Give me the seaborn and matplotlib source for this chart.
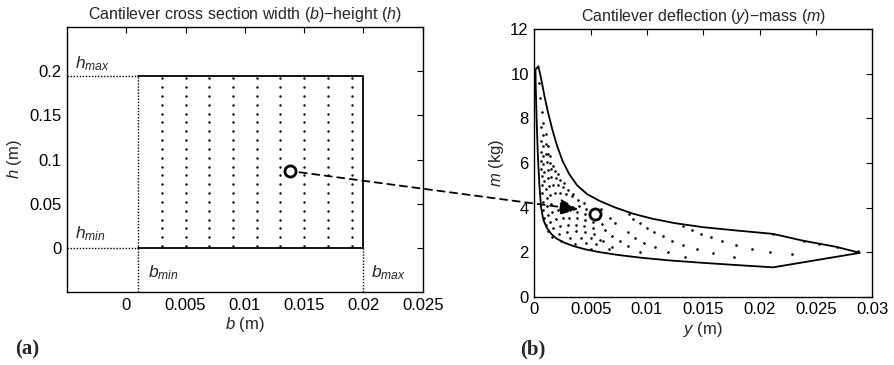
import numpy as np
import pandas as pd
import matplotlib
matplotlib.use("Agg")
import matplotlib.pyplot as plt
import seaborn as sns
from matplotlib.patches import ConnectionPatch
from matplotlib.ticker import FuncFormatter

# --- left panel: design space (b, h) ---
b_min, b_max = 0.001, 0.02
h_min, h_max = 0.0, 0.194
b_cols = [0.003, 0.005, 0.007, 0.009, 0.011, 0.013, 0.015, 0.017, 0.019]
h_rows = [0.002, 0.012, 0.022, 0.032, 0.042, 0.052, 0.062, 0.072, 0.082, 0.092,
          0.102, 0.112, 0.122, 0.132, 0.142, 0.152, 0.162, 0.172, 0.182, 0.192]
pick_b, pick_h = 0.0138, 0.087

# --- right panel: objective space (y, m), boundary ---
upper_y = [0.00036, 0.0006, 0.0009, 0.0012, 0.0016, 0.0020, 0.0025, 0.0031, 0.0038,
           0.0047, 0.0058, 0.0072, 0.0088, 0.0105, 0.0125, 0.0150, 0.0180, 0.0212,
           0.0239, 0.0268, 0.0289]
upper_m = [10.33, 9.8, 9.0, 8.3, 7.5, 6.8, 6.1, 5.5, 5.0,
           4.6, 4.3, 4.0, 3.72, 3.5, 3.3, 3.12, 2.97, 2.82,
           2.51, 2.24, 1.97]
lower_y = [0.0212, 0.0180, 0.0150, 0.0120, 0.0095, 0.0075, 0.0058, 0.0045, 0.0035,
           0.0027, 0.0020, 0.0015, 0.0011, 0.0008, 0.0006, 0.00045, 0.0003, 0.0002,
           0.00012, 0.0001, 0.00036]
lower_m = [1.32, 1.42, 1.52, 1.63, 1.75, 1.87, 2.0, 2.13, 2.27,
           2.42, 2.6, 2.82, 3.1, 3.45, 4.0, 5.0, 6.5, 8.0,
           9.5, 10.2, 10.33]

dots_y = [0.0004, 0.0005, 0.0007,
          0.0006, 0.0008,
          0.0006, 0.0008, 0.0010,
          0.0006, 0.0008, 0.0010, 0.0012,
          0.0006, 0.0008, 0.0010, 0.0012, 0.0014,
          0.0006, 0.0008, 0.0011, 0.0014, 0.0017,
          0.0007, 0.0009, 0.0012, 0.0015, 0.0018, 0.0021,
          0.0007, 0.0009, 0.0012, 0.0015, 0.0019, 0.0023, 0.0026,
          0.0007, 0.0010, 0.0013, 0.0017, 0.0021, 0.0025, 0.0030, 0.0034,
          0.0008, 0.0011, 0.0014, 0.0018, 0.0023, 0.0028, 0.0033, 0.0039, 0.0044,
          0.0008, 0.0011, 0.0015, 0.0040, 0.0046, 0.0052,
          0.0009, 0.0012, 0.0016, 0.0021, 0.0026, 0.0032, 0.0038, 0.0045,
          0.0010, 0.0014, 0.0019, 0.0025, 0.0031, 0.0038, 0.0045, 0.0052, 0.0060,
          0.0012, 0.0017, 0.0023, 0.0030, 0.0037, 0.0044, 0.0052,
          0.0016, 0.0022, 0.0029, 0.0037, 0.0045, 0.0053,
          0.0024, 0.0032, 0.0041, 0.0050, 0.0058,
          0.0036, 0.0046, 0.0055,
          0.0050,
          0.0059, 0.0067, 0.0072, 0.0084, 0.0088, 0.0094, 0.0100, 0.0106, 0.0114, 0.0122,
          0.0132, 0.0140, 0.0063, 0.0069, 0.0076, 0.0083, 0.0089, 0.0097, 0.0107, 0.0119,
          0.0132, 0.0144, 0.0061, 0.0069, 0.0083, 0.0094, 0.0134, 0.0066,
          0.0148, 0.0157, 0.0167, 0.0179, 0.0193, 0.0209, 0.0159, 0.0177,
          0.0212, 0.0229, 0.0239, 0.0253, 0.0269, 0.0287]
dots_m = [9.6, 8.9, 8.3,
          7.6, 7.8,
          7.0, 7.25, 7.3,
          6.5, 6.75, 6.85, 6.75,
          6.1, 6.3, 6.42, 6.42, 6.3,
          5.75, 5.95, 6.05, 6.0, 5.85,
          5.4, 5.58, 5.7, 5.72, 5.65, 5.5,
          5.0, 5.2, 5.33, 5.38, 5.35, 5.25, 5.1,
          4.64, 4.84, 4.97, 5.02, 5.0, 4.92, 4.78, 4.62,
          4.26, 4.45, 4.58, 4.65, 4.66, 4.6, 4.5, 4.35, 4.2,
          3.89, 4.05, 4.18, 4.05, 3.95, 3.82,
          3.52, 3.68, 3.8, 3.88, 3.9, 3.88, 3.82, 3.72,
          3.22, 3.36, 3.47, 3.53, 3.55, 3.52, 3.45, 3.36, 3.25,
          2.95, 3.08, 3.17, 3.22, 3.22, 3.18, 3.1,
          2.7, 2.82, 2.9, 2.93, 2.9, 2.83,
          2.52, 2.62, 2.65, 2.62, 2.55,
          2.35, 2.4, 2.38,
          2.15,
          3.94, 3.55, 3.32, 3.70, 3.49, 3.29, 3.10, 2.92, 2.72, 2.51,
          3.17, 2.99, 2.99, 2.74, 2.50, 2.89, 2.65, 2.42, 2.24, 2.01,
          2.32, 2.13, 2.50, 2.24, 2.28, 2.01, 1.80, 2.14,
          2.83, 2.66, 2.50, 2.33, 2.15, 1.99, 1.97, 1.77,
          2.82, 1.90, 2.51, 2.37, 2.22, 2.06]
pick_y, pick_m = 0.0054, 3.71
arrow_y, arrow_m = 0.0039, 3.92

sns.set_theme(style="white")
plt.rcParams["font.family"] = ["Liberation Sans", "DejaVu Sans"]
plt.rcParams["mathtext.fontset"] = "custom"
plt.rcParams["mathtext.rm"] = "Liberation Sans"
plt.rcParams["mathtext.it"] = "Liberation Sans:italic"

fig = plt.figure(figsize=(8.94, 3.65), dpi=100)
ax1 = fig.add_axes([0.0749, 0.200, 0.398, 0.726])
ax2 = fig.add_axes([0.5977, 0.187, 0.378, 0.7326])

# left panel
grid = pd.DataFrame([(b, h) for b in b_cols for h in h_rows], columns=["b", "h"])
sns.scatterplot(data=grid, x="b", y="h", ax=ax1, s=3, color="black", linewidth=0, legend=False)
rect = pd.DataFrame({"b": [b_min, b_max, b_max, b_min], "h": [h_max, h_max, h_min, h_min]})
sns.lineplot(data=rect, x="b", y="h", ax=ax1, sort=False, estimator=None, color="black", lw=1.3)
dot_kw = dict(color="black", lw=1.0, ls=(0, (1, 1.2)))
ax1.plot([-0.005, b_min], [h_max, h_max], **dot_kw)
ax1.plot([-0.005, b_min], [h_min, h_min], **dot_kw)
ax1.plot([b_min, b_min], [-0.05, h_max], **dot_kw)
ax1.plot([b_max, b_max], [-0.05, h_min], **dot_kw)
ax1.plot([pick_b], [pick_h], "o", ms=8, mfc="white", mec="black", mew=2, zorder=5)

fs = 12
ax1.text(-0.0043, h_max + 0.004, "$h_{max}$", fontsize=12.5, va="bottom", ha="left")
ax1.text(-0.0043, h_min + 0.005, "$h_{min}$", fontsize=12.5, va="bottom", ha="left")
ax1.text(b_min + 0.0008, -0.028, "$b_{min}$", fontsize=12.5, va="center", ha="left")
ax1.text(b_max + 0.0006, -0.028, "$b_{max}$", fontsize=12.5, va="center", ha="left")

ax1.set_xlim(-0.005, 0.025)
ax1.set_ylim(-0.05, 0.25)
ax1.set_xticks([0, 0.005, 0.01, 0.015, 0.02, 0.025])
ax1.set_yticks([0, 0.05, 0.1, 0.15, 0.2])
ax1.set_xlabel("$b$ (m)", fontsize=fs, labelpad=2)
ax1.set_ylabel("$h$ (m)", fontsize=fs, labelpad=4)
ax1.set_title("Cantilever cross section width ($b$)\u2212height ($h$)", fontsize=11.5, pad=6)

# right panel
bound = pd.DataFrame({"y": upper_y + lower_y, "m": upper_m + lower_m})
sns.lineplot(data=bound, x="y", y="m", ax=ax2, sort=False, estimator=None, color="black", lw=1.3)
pts = pd.DataFrame({"y": dots_y, "m": dots_m})
sns.scatterplot(data=pts, x="y", y="m", ax=ax2, s=3.5, color="black", linewidth=0, legend=False)
ax2.plot([pick_y], [pick_m], "o", ms=8, mfc="white", mec="black", mew=2, zorder=5)

ax2.set_xlim(0, 0.03)
ax2.set_ylim(0, 12)
ax2.set_xticks([0, 0.005, 0.01, 0.015, 0.02, 0.025, 0.03])
ax2.set_yticks([0, 2, 4, 6, 8, 10, 12])
ax2.set_xlabel("$y$ (m)", fontsize=fs, labelpad=2)
ax2.set_ylabel("$m$ (kg)", fontsize=fs, labelpad=3)
ax2.set_title("Cantilever deflection ($y$)\u2212mass ($m$)", fontsize=11.5, pad=6)

fmt = FuncFormatter(lambda v, p: "%g" % v)
for ax in (ax1, ax2):
    ax.xaxis.set_major_formatter(fmt)
    ax.yaxis.set_major_formatter(fmt)
    ax.tick_params(direction="in", length=4, width=0.8, top=True, right=True,
                   labelsize=fs, colors="black", pad=4)
    for s in ax.spines.values():
        s.set_color("black")
        s.set_linewidth(1.0)

con = ConnectionPatch(xyA=(pick_b, pick_h), coordsA=ax1.transData,
                      xyB=(arrow_y, arrow_m), coordsB=ax2.transData,
                      arrowstyle="-|>,head_length=0.8,head_width=0.35", ls=(0, (4, 3)),
                      lw=1.3, color="black", shrinkA=7, shrinkB=0, mutation_scale=14, zorder=10)
fig.add_artist(con)

fig.text(0.017, 0.03, "(a)", family="Liberation Serif", weight="bold", fontsize=15)
fig.text(0.582, 0.03, "(b)", family="Liberation Serif", weight="bold", fontsize=15)

fig.savefig("out.png", dpi=100)
